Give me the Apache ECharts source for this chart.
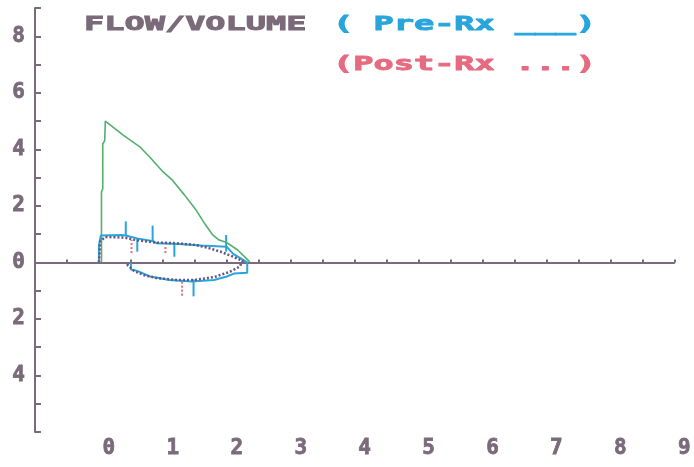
<!DOCTYPE html>
<html>
<head>
<meta charset="utf-8">
<script src="https://cdn.jsdelivr.net/npm/echarts@6/dist/echarts.min.js"></script>
<style>
  html, body { margin: 0; padding: 0; background: #fff; }
  #chart { width: 694px; height: 467px; }
</style>
</head>
<body>
<div id="chart"></div>
<script>
// volume (L) on x, flow (L/s) on y
const xTicks = [0, 1, 2, 3, 4, 5, 6, 7, 8, 9];
const yTicks = [8, 6, 4, 2, 0, -2, -4];

// predicted / reference expiratory curve (green)
const greenCurve = [
  [0.04, 0], [0.04, 2.5], [0.06, 2.6], [0.06, 4.2], [0.09, 4.3], [0.10, 5.0],
  [0.38, 4.5], [0.64, 4.09], [0.79, 3.74], [1.0, 3.21], [1.15, 2.91],
  [1.34, 2.38], [1.52, 1.85], [1.67, 1.32], [1.78, 0.97], [1.88, 0.79],
  [2.0, 0.7], [2.17, 0.44], [2.3, 0.15], [2.36, 0.02]
];

// Pre-Rx loop (solid)
const preLoop = [
  [0.0, 0], [0.0, 0.6], [0.03, 0.95], [0.35, 0.97], [0.42, 0.95], [0.6, 0.85],
  [0.85, 0.75], [0.9, 0.68], [1.25, 0.65], [1.6, 0.6], [2.0, 0.55],
  [2.1, 0.3], [2.25, 0.1], [2.32, 0],
  [2.32, -0.37], [2.12, -0.39], [2.0, -0.5], [1.8, -0.62], [1.45, -0.68],
  [1.1, -0.62], [0.8, -0.5], [0.6, -0.3], [0.5, -0.25], [0.5, 0]
];

// Post-Rx loop (dotted)
const postLoop = [
  [0.0, 0], [0.02, 0.75], [0.1, 0.9], [0.4, 0.88], [0.6, 0.78], [0.9, 0.7],
  [1.2, 0.68], [1.5, 0.62], [1.7, 0.52], [1.9, 0.38], [2.1, 0.2], [2.25, 0.05],
  [2.25, 0], [2.2, -0.15], [2.05, -0.33], [1.8, -0.52], [1.5, -0.62],
  [1.2, -0.62], [0.9, -0.55], [0.7, -0.45], [0.55, -0.3], [0.45, -0.1], [0.45, 0]
];

// vertical marks [x, yFrom, yTo]
const preMarks = [
  [0.42, 0.95, 1.45], [0.6, 0.38, 0.86], [0.84, 0.75, 1.3],
  [1.18, 0.2, 0.68], [1.99, 0.38, 0.97], [1.48, -0.6, -1.2]
];
const postMarks = [
  [0.51, 0.33, 0.8], [1.04, 0.33, 0.55], [1.3, -0.68, -1.22]
];

const axisColor = '#7a6a7a';
const blue = '#27a5dc';
const pink = '#e66a80';
const green = '#52b06c';
const dots = '#66557e';
const monoFont = '"DejaVu Sans Mono", "Liberation Mono", monospace';

function markRender(color, dash) {
  return function (params, api) {
    const p1 = api.coord([api.value(0), api.value(1)]);
    const p2 = api.coord([api.value(0), api.value(2)]);
    return {
      type: 'line',
      shape: { x1: p1[0], y1: p1[1], x2: p2[0], y2: p2[1] },
      style: { stroke: color, lineWidth: 2, lineDash: dash }
    };
  };
}

function titleText(x, y, text, color) {
  return {
    type: 'text', x: x, y: y, scaleX: 1.68,
    style: {
      text: text, fill: color, stroke: color, lineWidth: 0.9,
      font: 'bold 20px ' + monoFont, verticalAlign: 'middle'
    }
  };
}

const labelStyle = {
  color: axisColor,
  fontFamily: monoFont,
  fontWeight: 'bold',
  fontSize: 21,
  textBorderColor: axisColor,
  textBorderWidth: 0.8
};

const myChart = echarts.init(document.getElementById('chart'));
const option = {
  animation: false,
  backgroundColor: '#ffffff',
  grid: { left: 35, right: 17, top: 8, bottom: 35 },
  graphic: [
    titleText(84, 25, 'FLOW/VOLUME', axisColor),
    titleText(333, 25, '( Pre-Rx ___)', blue),
    titleText(333, 65, '(Post-Rx ...)', pink)
  ],
  xAxis: [
    {
      type: 'value', min: -1, max: 9, interval: 0.5,
      axisLine: { onZero: true, lineStyle: { color: axisColor, width: 2 } },
      axisTick: { show: true, inside: true, length: 3, lineStyle: { color: axisColor, width: 2 } },
      axisLabel: { show: false },
      splitLine: { show: false }
    },
    {
      type: 'value', min: -1, max: 9, interval: 1, position: 'bottom',
      axisLine: { show: false, onZero: false },
      axisTick: { show: false },
      splitLine: { show: false },
      axisLabel: Object.assign({
        margin: 6,
        padding: [0, 0, 0, 20],
        formatter: v => (xTicks.includes(v) ? String(v) : '')
      }, labelStyle)
    }
  ],
  yAxis: {
    type: 'value', min: -6, max: 9, interval: 1,
    axisLine: { show: true, onZero: false, lineStyle: { color: axisColor, width: 2 } },
    axisTick: { show: true, inside: true, length: 6, lineStyle: { color: axisColor, width: 2 } },
    splitLine: { show: false },
    axisLabel: Object.assign({
      margin: 10,
      formatter: v => (yTicks.includes(v) ? String(Math.abs(v)) : '')
    }, labelStyle)
  },
  series: [
    {
      name: 'Predicted', type: 'line', data: greenCurve, symbol: 'none',
      lineStyle: { color: green, width: 1.6 }
    },
    {
      name: 'Pre-Rx', type: 'line', data: preLoop, symbol: 'none',
      lineStyle: { color: blue, width: 2 }
    },
    {
      name: 'Post-Rx', type: 'line', data: postLoop, symbol: 'none',
      lineStyle: { color: dots, width: 2.5, type: [2, 2] }
    },
    {
      name: 'Pre-Rx marks', type: 'custom', data: preMarks,
      encode: { x: 0, y: [1, 2] },
      renderItem: markRender(blue, null)
    },
    {
      name: 'Post-Rx marks', type: 'custom', data: postMarks,
      encode: { x: 0, y: [1, 2] },
      renderItem: markRender(pink, [2, 2])
    }
  ]
};
myChart.setOption(option);
</script>
</body>
</html>
